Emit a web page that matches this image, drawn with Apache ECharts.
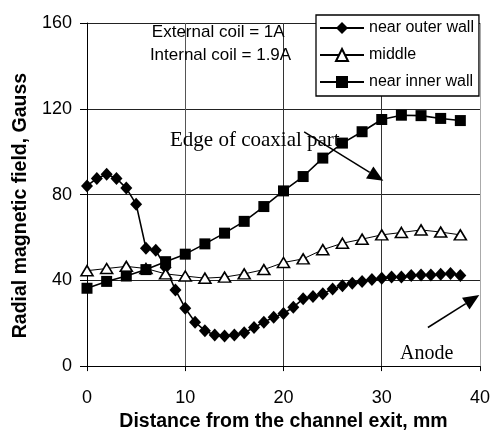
<!DOCTYPE html>
<html><head><meta charset="utf-8">
<script src="https://cdn.jsdelivr.net/npm/echarts@6/dist/echarts.min.js"></script>
<style>html,body{margin:0;padding:0;background:#fff}#c{width:493px;height:437px}</style>
</head><body><div id="c"></div>
<script>
// ---- data ----
const seriesNames = ['near outer wall', 'middle', 'near inner wall'];
const xOuter = [0,1,2,3,4,5,6,7,8,9,10,11,12,13,14,15,16,17,18,19,20,21,22,23,24,25,26,27,28,29,30,31,32,33,34,35,36,37,38];
const yOuter = [84,87.5,89.5,87.5,83,75.5,55,54,46,35.5,27,20.5,16.5,14.5,14,14.5,15.5,18,20.5,22.8,24.5,27.5,31.4,32.4,33.7,36,37.5,38.6,39.5,40.4,41,41.5,41.5,42.2,42.5,42.5,42.8,43.2,42.3];
const xStep2 = [0,2,4,6,8,10,12,14,16,18,20,22,24,26,28,30,32,34,36,38];
const yMiddle = [44.5,45.5,46.5,45.5,43,42,41,41.5,43,45,48.3,50,54.3,57.3,59.2,61.2,62.3,63.5,62.5,61.2];
const yInner = [36.3,39.5,42,45,48.7,52.2,57,62,67.5,74.4,81.7,88.4,97,104,109.3,115,117,116.8,115.5,114.5];
const xTicks = {min:0, max:40, interval:10};
const yTicks = {min:0, max:160, interval:40};
const xTitle = 'Distance from the channel exit, mm';
const yTitle = 'Radial magnetic field, Gauss';
const noteLines = ['External coil = 1A', 'Internal coil = 1.9A'];
const noteAnchors = [[6.6, 155.5], [6.4, 145]];
const edgeLabel = 'Edge of coaxial part';
const edgeLabelAt = [8.45, 109.9];
const edgeArrow = [[22.1, 109.2], [30.16, 86.4]];
const anodeLabel = 'Anode';
const anodeLabelAt = [31.86, 10.3];
const anodeArrow = [[34.7, 18.0], [39.93, 33.1]];

const pairs = (xs, ys) => xs.map((x, i) => [x, ys[i]]);
const SANS = '"Liberation Sans", Arial, sans-serif';
const SERIF = '"Liberation Serif", "Times New Roman", serif';

const chart = echarts.init(document.getElementById('c'), null, {renderer: 'canvas'});
chart.setOption({
  animation: false,
  backgroundColor: '#fff',
  grid: {left: 87, right: 13, top: 23, bottom: 63, show: false},
  legend: {
    orient: 'vertical', left: 316, top: 15,
    backgroundColor: '#fff', borderColor: '#000', borderWidth: 1.3,
    padding: [5, 5, 6, 3], itemWidth: 44, itemHeight: 15, itemGap: 11,
    textStyle: {fontSize: 16, fontFamily: SANS, color: '#000', lineHeight: 16},
    data: seriesNames
  },
  xAxis: {
    type: 'value', min: xTicks.min, max: xTicks.max, interval: xTicks.interval,
    name: xTitle, nameLocation: 'middle', nameGap: 43,
    nameTextStyle: {fontSize: 19.5, fontWeight: 'bold', fontFamily: SANS, color: '#000'},
    axisLine: {show: true, lineStyle: {color: '#000', width: 1}},
    axisTick: {show: true, length: 5, lineStyle: {color: '#000'}},
    axisLabel: {fontSize: 18, fontFamily: SANS, color: '#000', margin: 23},
    splitLine: {show: true, lineStyle: {color: ['#555','#555','#333','#333','#aaa'], width: 1}}
  },
  yAxis: {
    type: 'value', min: yTicks.min, max: yTicks.max, interval: yTicks.interval,
    name: yTitle, nameLocation: 'middle', nameGap: 52,
    nameTextStyle: {fontSize: 19.5, fontWeight: 'bold', fontFamily: SANS, color: '#000', padding: [0, 22, 0, 0]},
    axisLine: {show: true, lineStyle: {color: '#000', width: 1}},
    axisTick: {show: true, length: 7, lineStyle: {color: '#000'}},
    axisLabel: {fontSize: 18, fontFamily: SANS, color: '#000', margin: 15},
    splitLine: {show: true, lineStyle: {color: '#222', width: 1}}
  },
  series: [
    {
      name: seriesNames[0], type: 'line', data: pairs(xOuter, yOuter),
      symbol: 'diamond', symbolSize: [12, 13], showAllSymbol: true,
      lineStyle: {color: '#000', width: 1.6}, itemStyle: {color: '#000'}
    },
    {
      name: seriesNames[1], type: 'line', data: pairs(xStep2, yMiddle),
      symbol: 'triangle', symbolSize: [12, 10], showAllSymbol: true,
      lineStyle: {color: '#000', width: 1}, itemStyle: {color: '#fff', borderColor: '#000', borderWidth: 1.6}
    },
    {
      name: seriesNames[2], type: 'line', data: pairs(xStep2, yInner),
      symbol: 'rect', symbolSize: 11, showAllSymbol: true,
      lineStyle: {color: '#000', width: 1.6}, itemStyle: {color: '#000'}
    }
  ]
});

function px(p) { return chart.convertToPixel({gridIndex: 0}, p); }
function arrow(a, b) {
  const p1 = px(a), p2 = px(b);
  const dx = p2[0] - p1[0], dy = p2[1] - p1[1];
  const L = Math.hypot(dx, dy), ux = dx / L, uy = dy / L;
  const hl = 16, hw = 7;
  const bx = p2[0] - ux * hl, by = p2[1] - uy * hl;
  return [
    {type: 'line', shape: {x1: p1[0], y1: p1[1], x2: bx, y2: by}, style: {stroke: '#000', lineWidth: 1.5}, z: 50},
    {type: 'polygon', shape: {points: [[p2[0], p2[1]], [bx - uy * hw, by + ux * hw], [bx + uy * hw, by - ux * hw]]}, style: {fill: '#000'}, z: 50}
  ];
}
const g = [];
noteLines.forEach((t, i) => {
  const p = px(noteAnchors[i]);
  g.push({type: 'text', x: p[0], y: p[1], style: {text: t, fontSize: 17, fontFamily: SANS, fill: '#000', verticalAlign: 'middle', align: 'left'}, z: 50});
});
const pe = px(edgeLabelAt);
g.push({type: 'text', x: pe[0], y: pe[1], style: {text: edgeLabel, fontSize: 21, fontFamily: SERIF, fill: '#000', verticalAlign: 'alphabetic', align: 'left'}, z: 50});
const pa = px(anodeLabelAt);
g.push({type: 'text', x: pa[0], y: pa[1], style: {text: anodeLabel, fontSize: 20, fontFamily: SERIF, fill: '#000', verticalAlign: 'alphabetic', align: 'left'}, z: 50});
g.push(...arrow(edgeArrow[0], edgeArrow[1]));
g.push(...arrow(anodeArrow[0], anodeArrow[1]));
chart.setOption({graphic: g});
</script>
</body></html>
